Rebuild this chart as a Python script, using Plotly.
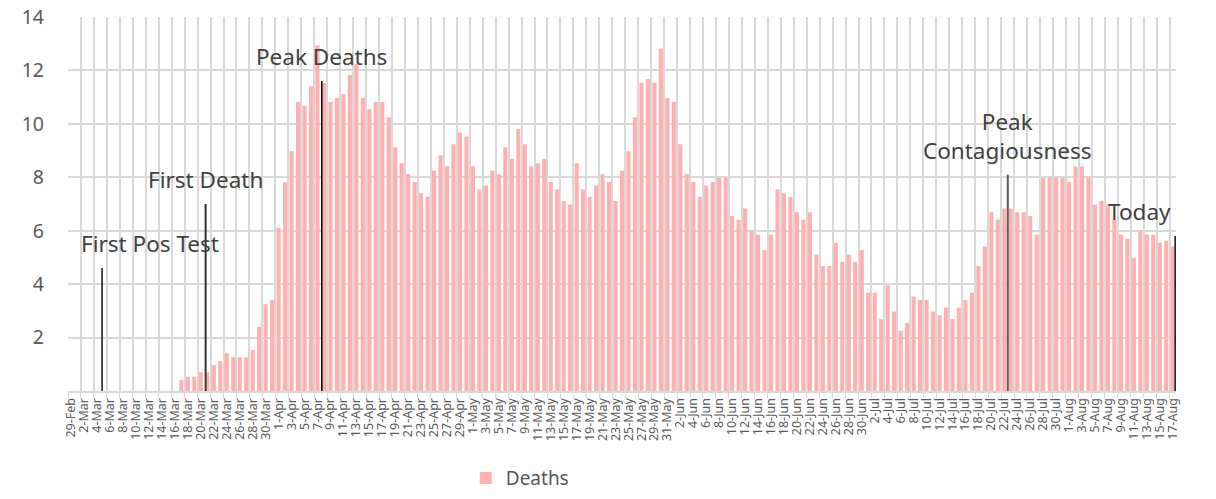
import datetime as dt
import plotly.graph_objects as go

# ---- data ----
start = dt.date(2020, 2, 29)
deaths = [
    0, 0, 0, 0, 0, 0, 0, 0, 0, 0,            # 29-Feb .. 9-Mar
    0, 0, 0, 0, 0, 0, 0, 0.41, 0.53, 0.53,   # 10-Mar .. 19-Mar
    0.70, 0.70, 0.97, 1.12, 1.41, 1.26, 1.26, 1.26, 1.53, 2.40,
    3.25, 3.40, 6.11, 7.81, 8.97, 10.82, 10.67, 11.41, 12.94, 11.54,
    10.82, 10.97, 11.12, 11.83, 12.25, 10.97, 10.55, 10.82, 10.82, 10.25,
    9.12, 8.53, 8.12, 7.82, 7.40, 7.26, 8.25, 8.82, 8.41, 9.24,
    9.68, 9.53, 8.41, 7.54, 7.69, 8.25, 8.11, 9.12, 8.69, 9.81,
    9.24, 8.41, 8.53, 8.69, 7.82, 7.54, 7.11, 6.98, 8.53, 7.54,
    7.26, 7.69, 8.11, 7.82, 7.11, 8.25, 8.97, 10.25, 11.54, 11.68,
    11.54, 12.82, 10.97, 10.82, 9.24, 8.11, 7.82, 7.26, 7.69, 7.82,
    7.97, 7.97, 6.55, 6.41, 6.83, 6.00, 5.85, 5.27, 5.85, 7.54,
    7.40, 7.26, 6.69, 6.41, 6.69, 5.11, 4.68, 4.68, 5.55, 4.84,
    5.11, 4.84, 5.27, 3.68, 3.68, 2.69, 3.96, 2.97, 2.26, 2.55,
    3.54, 3.41, 3.41, 2.97, 2.84, 3.12, 2.69, 3.12, 3.41, 3.68,
    4.68, 5.41, 6.69, 6.41, 6.83, 6.83, 6.69, 6.69, 6.55, 5.85,
    7.97, 7.97, 7.97, 7.97, 7.82, 8.40, 8.40, 7.97, 6.98, 7.11,
    6.98, 6.41, 5.85, 5.70, 4.99, 6.00, 5.85, 5.85, 5.55, 5.62,
    5.41,
]
dates = [start + dt.timedelta(days=i) for i in range(len(deaths))]
date_labels = [f"{d.day}-{d.strftime('%b')}" for d in dates]
x_idx = list(range(len(deaths)))

tick_idx = x_idx[::2]
tick_text = date_labels[::2]
y_ticks = [2, 4, 6, 8, 10, 12, 14]

event_labels = ["First Pos Test", "First Death", "Peak Deaths", "Peak<br>Contagiousness", "Today"]
event_pos = [4.76, 20.74, 38.67, 144.54, 170.4]
event_height = [4.6, 7.0, 11.6, 8.1, 5.8]

# ---- styles ----
event_colors = ["#000000", "#333333", "#000000", "#595959", "#262626"]
event_widths = [1.4, 2, 1.5, 2, 2]
label_xshift = [48, 0, 0, 0, -36]

FONT = "Noto Sans"
GRID = "#d9d9d9"

fig = go.Figure()
fig.add_trace(go.Bar(
    x=x_idx, y=deaths, name="Deaths", width=0.64,
    marker=dict(color="#ffb0b0", line=dict(width=0)),
))

for lbl, p, h, c, w in zip(event_labels, event_pos, event_height, event_colors, event_widths):
    fig.add_trace(go.Scatter(
        x=[p, p], y=[0, h], mode="lines", showlegend=False,
        line=dict(color=c, width=w), hoverinfo="skip",
    ))

annotations = []
for lbl, p, h, xs in zip(event_labels, event_pos, event_height, label_xshift):
    annotations.append(dict(
        x=p, y=h, xref="x", yref="y", text=lbl, showarrow=False,
        xanchor="center", yanchor="bottom", xshift=xs, yshift=7,
        font=dict(family=FONT, size=22.5, color="#404040"),
    ))

fig.update_layout(
    width=1216, height=499,
    margin=dict(l=68, r=40, t=17, b=108),
    plot_bgcolor="white", paper_bgcolor="white",
    bargap=0.3,
    font=dict(family=FONT, color="#595959"),
    annotations=annotations,
    showlegend=True,
    legend=dict(
        orientation="h", x=0.359, xanchor="left",
        yref="container", y=0.042, yanchor="middle",
        font=dict(family=FONT, size=19, color="#595959"),
        itemwidth=30,
    ),
    xaxis=dict(
        range=[-0.5, len(deaths) - 0.5],
        automargin=False,
        tickmode="array", tickvals=tick_idx, ticktext=tick_text,
        tickangle=-90, tickfont=dict(size=12.5, color="#595959"),
        showgrid=False, zeroline=False,
        showline=True, linecolor=GRID, linewidth=2,
        ticks="",
        minor=dict(
            tickmode="linear", tick0=-0.5, dtick=2,
            showgrid=True, gridcolor=GRID, gridwidth=2,
            ticks="outside", ticklen=5, tickcolor=GRID, tickwidth=1,
        ),
    ),
    yaxis=dict(
        range=[0, 14],
        automargin=False,
        tickmode="array", tickvals=y_ticks,
        tickfont=dict(size=19.5, color="#595959"),
        showgrid=True, gridcolor=GRID, gridwidth=2,
        zeroline=False, showline=False, ticks="",
        ticklabelstandoff=23,
    ),
)

fig.write_html(
    "out.html",
    config={"displayModeBar": False},
    post_script="document.body.style.margin='0';",
)
